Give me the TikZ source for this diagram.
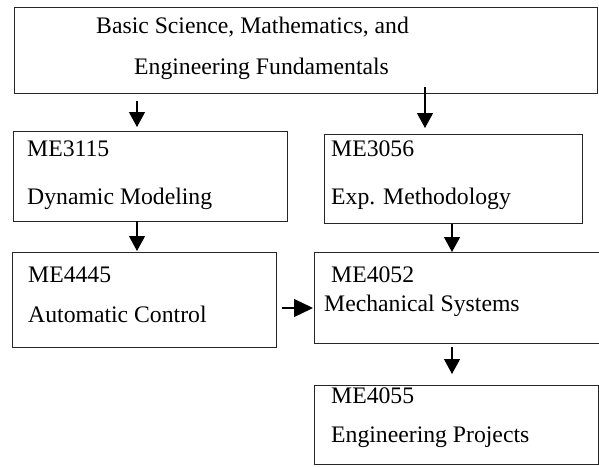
\documentclass[tikz,border=0pt]{standalone}
\usepackage{fontspec}
\setmainfont{Liberation Serif}
\usetikzlibrary{arrows.meta}
\begin{document}
\begin{tikzpicture}[x=1pt,y=-1pt,
  box/.style={draw=black!85,line width=1pt,rectangle,inner sep=0pt,outer sep=0pt,anchor=north west},
  lbl/.style={anchor=base west,inner sep=0pt,font=\fontsize{23.7}{28}\selectfont},
  arr/.style={draw=black,line width=1.2pt,-{Triangle[length=15pt,width=16pt]}}]
\useasboundingbox (0,0) rectangle (599,466);
\fill[white] (0,0) rectangle (599,466);

% course boxes
\node[box,minimum width=583pt,minimum height=86pt] (top) at (14,7) {};
\node[box,minimum width=274pt,minimum height=90pt] (m3115) at (13,131) {};
\node[box,minimum width=258pt,minimum height=89pt] (m3056) at (324,134) {};
\node[box,minimum width=264pt,minimum height=95pt] (m4445) at (12,252) {};
\node[box,minimum width=290pt,minimum height=91pt] (m4052) at (314,252) {};
\node[box,minimum width=284.5pt,minimum height=79pt] (m4055) at (314,385) {};

% box texts
\node[lbl] (t1a) at (96,33) {Basic Science, Mathematics, and};
\node[lbl] (t1b) at (134,74) {Engineering Fundamentals};
\node[lbl] (t2a) at (27,156) {ME3115};
\node[lbl] (t2b) at (27,204) {Dynamic Modeling};
\node[lbl] (t3a) at (331,156) {ME3056};
\node[lbl] (t3b) at (331,204) {Exp. Methodology};
\node[lbl] (t4a) at (28,282) {ME4445};
\node[lbl] (t4b) at (28,322) {Automatic Control};
\node[lbl] (t5a) at (331,282) {ME4052};
\node[lbl] (t5b) at (324,311) {Mechanical Systems};
\node[lbl] (t6a) at (331,403) {ME4055};
\node[lbl] (t6b) at (331,442) {Engineering Projects};

% connector lanes
\coordinate (xl) at (137,0);
\coordinate (xm) at (425,0);
\coordinate (xr) at (452,0);
\coordinate (yh) at (0,308);

% prerequisite arrows
\draw[arr,shorten <=8pt,shorten >=4pt] (top.south -| xl) -- (m3115.north -| xl);
\draw[arr,shorten <=-6pt,shorten >=6pt] (top.south -| xm) -- (m3056.north -| xm);
\draw[arr,shorten >=1pt] (m3115.south -| xl) -- (m4445.north -| xl);
\draw[arr,shorten <=1pt] (m3056.south -| xr) -- (m4052.north -| xr);
\draw[arr,shorten <=4pt,shorten >=11pt] (m4052.south -| xr) -- (m4055.north -| xr);
\draw[arr,-{Triangle[length=19pt,width=18pt]},shorten <=6pt,shorten >=1pt] (m4445.east |- yh) -- (m4052.west |- yh);
\end{tikzpicture}
\end{document}
